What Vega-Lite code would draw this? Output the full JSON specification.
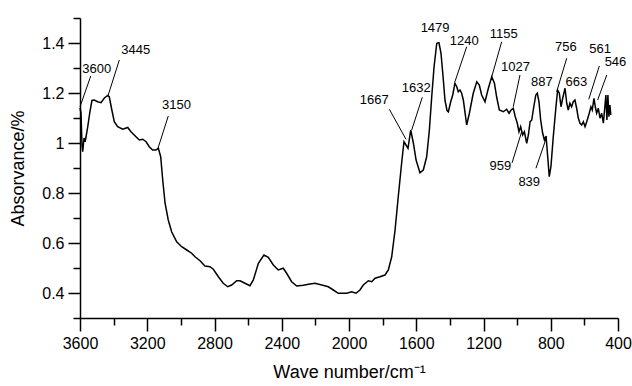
{
  "$schema": "https://vega.github.io/schema/vega-lite/v6.json",
  "width": 538,
  "height": 300,
  "autosize": {"type": "none"},
  "padding": {"left": 80, "top": 18, "right": 14, "bottom": 68},
  "background": "white",
  "config": {
    "view": {"stroke": null},
    "font": "Liberation Sans",
    "axis": {
      "domainColor": "black", "domainWidth": 1.5,
      "tickColor": "black", "tickWidth": 1.5,
      "labelColor": "black", "titleColor": "black",
      "labelFont": "Liberation Sans", "titleFont": "Liberation Sans",
      "labelFontSize": 16, "titleFontSize": 18, "titleFontWeight": "normal",
      "grid": false
    }
  },
  "datasets": {
    "spectrum": [
      {"wn": 3600, "abs": 1.14}, {"wn": 3594, "abs": 1.12}, {"wn": 3588, "abs": 0.99}, {"wn": 3584, "abs": 0.965},
      {"wn": 3576, "abs": 1.02}, {"wn": 3570, "abs": 1.005}, {"wn": 3564, "abs": 1.025}, {"wn": 3554, "abs": 1.065},
      {"wn": 3541, "abs": 1.125}, {"wn": 3529, "abs": 1.17}, {"wn": 3515, "abs": 1.172}, {"wn": 3495, "abs": 1.165},
      {"wn": 3475, "abs": 1.161}, {"wn": 3455, "abs": 1.18}, {"wn": 3435, "abs": 1.19}, {"wn": 3426, "abs": 1.185},
      {"wn": 3410, "abs": 1.13}, {"wn": 3396, "abs": 1.085}, {"wn": 3376, "abs": 1.065}, {"wn": 3346, "abs": 1.055},
      {"wn": 3316, "abs": 1.062}, {"wn": 3297, "abs": 1.045}, {"wn": 3267, "abs": 1.025}, {"wn": 3247, "abs": 1.012},
      {"wn": 3227, "abs": 1.015}, {"wn": 3207, "abs": 1.005}, {"wn": 3188, "abs": 0.985}, {"wn": 3168, "abs": 0.972},
      {"wn": 3148, "abs": 0.972}, {"wn": 3134, "abs": 0.979}, {"wn": 3120, "abs": 0.945}, {"wn": 3108, "abs": 0.852},
      {"wn": 3094, "abs": 0.759}, {"wn": 3075, "abs": 0.692}, {"wn": 3055, "abs": 0.645}, {"wn": 3025, "abs": 0.605},
      {"wn": 2995, "abs": 0.585}, {"wn": 2965, "abs": 0.572}, {"wn": 2936, "abs": 0.559}, {"wn": 2916, "abs": 0.545},
      {"wn": 2886, "abs": 0.529}, {"wn": 2857, "abs": 0.508}, {"wn": 2827, "abs": 0.505}, {"wn": 2807, "abs": 0.495},
      {"wn": 2777, "abs": 0.465}, {"wn": 2748, "abs": 0.439}, {"wn": 2721, "abs": 0.425}, {"wn": 2698, "abs": 0.432},
      {"wn": 2668, "abs": 0.449}, {"wn": 2648, "abs": 0.449}, {"wn": 2619, "abs": 0.439}, {"wn": 2589, "abs": 0.429},
      {"wn": 2569, "abs": 0.452}, {"wn": 2539, "abs": 0.519}, {"wn": 2506, "abs": 0.552}, {"wn": 2480, "abs": 0.543},
      {"wn": 2450, "abs": 0.512}, {"wn": 2421, "abs": 0.492}, {"wn": 2391, "abs": 0.499}, {"wn": 2371, "abs": 0.479},
      {"wn": 2341, "abs": 0.445}, {"wn": 2311, "abs": 0.428}, {"wn": 2272, "abs": 0.431}, {"wn": 2232, "abs": 0.436},
      {"wn": 2202, "abs": 0.439}, {"wn": 2162, "abs": 0.432}, {"wn": 2123, "abs": 0.425}, {"wn": 2093, "abs": 0.412},
      {"wn": 2064, "abs": 0.399}, {"wn": 2054, "abs": 0.399}, {"wn": 2014, "abs": 0.399}, {"wn": 1984, "abs": 0.405},
      {"wn": 1958, "abs": 0.399}, {"wn": 1935, "abs": 0.412}, {"wn": 1915, "abs": 0.432}, {"wn": 1885, "abs": 0.449},
      {"wn": 1865, "abs": 0.445}, {"wn": 1845, "abs": 0.459}, {"wn": 1816, "abs": 0.465}, {"wn": 1786, "abs": 0.472},
      {"wn": 1766, "abs": 0.492}, {"wn": 1746, "abs": 0.545}, {"wn": 1726, "abs": 0.652}, {"wn": 1707, "abs": 0.785},
      {"wn": 1687, "abs": 0.919}, {"wn": 1673, "abs": 1.005}, {"wn": 1661, "abs": 0.992}, {"wn": 1649, "abs": 0.979},
      {"wn": 1633, "abs": 1.052}, {"wn": 1617, "abs": 0.999}, {"wn": 1601, "abs": 0.932}, {"wn": 1578, "abs": 0.881},
      {"wn": 1558, "abs": 0.892}, {"wn": 1538, "abs": 0.945}, {"wn": 1522, "abs": 1.052}, {"wn": 1508, "abs": 1.185},
      {"wn": 1494, "abs": 1.305}, {"wn": 1478, "abs": 1.399}, {"wn": 1465, "abs": 1.401}, {"wn": 1453, "abs": 1.36},
      {"wn": 1441, "abs": 1.27}, {"wn": 1429, "abs": 1.17}, {"wn": 1417, "abs": 1.13}, {"wn": 1409, "abs": 1.125},
      {"wn": 1395, "abs": 1.165}, {"wn": 1383, "abs": 1.192}, {"wn": 1370, "abs": 1.239}, {"wn": 1359, "abs": 1.225},
      {"wn": 1350, "abs": 1.205}, {"wn": 1340, "abs": 1.212}, {"wn": 1330, "abs": 1.199}, {"wn": 1320, "abs": 1.172},
      {"wn": 1300, "abs": 1.072}, {"wn": 1284, "abs": 1.119}, {"wn": 1261, "abs": 1.199}, {"wn": 1240, "abs": 1.245},
      {"wn": 1225, "abs": 1.232}, {"wn": 1211, "abs": 1.192}, {"wn": 1191, "abs": 1.165}, {"wn": 1171, "abs": 1.219},
      {"wn": 1151, "abs": 1.265}, {"wn": 1135, "abs": 1.239}, {"wn": 1122, "abs": 1.185}, {"wn": 1106, "abs": 1.132},
      {"wn": 1082, "abs": 1.125}, {"wn": 1062, "abs": 1.135}, {"wn": 1048, "abs": 1.119}, {"wn": 1036, "abs": 1.132},
      {"wn": 1023, "abs": 1.139}, {"wn": 1011, "abs": 1.105}, {"wn": 999, "abs": 1.079}, {"wn": 989, "abs": 1.045},
      {"wn": 979, "abs": 1.065}, {"wn": 967, "abs": 1.032}, {"wn": 957, "abs": 1.045}, {"wn": 943, "abs": 0.999},
      {"wn": 933, "abs": 1.032}, {"wn": 923, "abs": 1.085}, {"wn": 913, "abs": 1.092}, {"wn": 904, "abs": 1.132},
      {"wn": 889, "abs": 1.192}, {"wn": 880, "abs": 1.199}, {"wn": 870, "abs": 1.165}, {"wn": 860, "abs": 1.092},
      {"wn": 848, "abs": 1.039}, {"wn": 838, "abs": 1.012}, {"wn": 828, "abs": 1.028}, {"wn": 818, "abs": 0.945},
      {"wn": 809, "abs": 0.865}, {"wn": 799, "abs": 0.905}, {"wn": 785, "abs": 1.025}, {"wn": 769, "abs": 1.145},
      {"wn": 759, "abs": 1.212}, {"wn": 749, "abs": 1.199}, {"wn": 739, "abs": 1.145}, {"wn": 729, "abs": 1.179},
      {"wn": 715, "abs": 1.219}, {"wn": 705, "abs": 1.159}, {"wn": 696, "abs": 1.132}, {"wn": 686, "abs": 1.159},
      {"wn": 676, "abs": 1.145}, {"wn": 666, "abs": 1.165}, {"wn": 656, "abs": 1.172}, {"wn": 646, "abs": 1.139},
      {"wn": 636, "abs": 1.099}, {"wn": 626, "abs": 1.079}, {"wn": 616, "abs": 1.072}, {"wn": 606, "abs": 1.085},
      {"wn": 596, "abs": 1.065}, {"wn": 586, "abs": 1.085}, {"wn": 571, "abs": 1.119}, {"wn": 561, "abs": 1.145},
      {"wn": 553, "abs": 1.132}, {"wn": 543, "abs": 1.179}, {"wn": 535, "abs": 1.145}, {"wn": 527, "abs": 1.119},
      {"wn": 517, "abs": 1.139}, {"wn": 507, "abs": 1.099}, {"wn": 497, "abs": 1.119}, {"wn": 487, "abs": 1.079},
      {"wn": 480, "abs": 1.132}, {"wn": 472, "abs": 1.192}, {"wn": 466, "abs": 1.092}, {"wn": 460, "abs": 1.192},
      {"wn": 454, "abs": 1.105}, {"wn": 448, "abs": 1.152}, {"wn": 443, "abs": 1.112}
    ],
    "labels": [
      {"wn": 3500, "abs": 1.297, "text": "3600"},
      {"wn": 3268, "abs": 1.373, "text": "3445"},
      {"wn": 3026, "abs": 1.153, "text": "3150"},
      {"wn": 1488, "abs": 1.461, "text": "1479"},
      {"wn": 1315, "abs": 1.408, "text": "1240"},
      {"wn": 1080, "abs": 1.435, "text": "1155"},
      {"wn": 1010, "abs": 1.305, "text": "1027"},
      {"wn": 1600, "abs": 1.221, "text": "1632"},
      {"wn": 1850, "abs": 1.172, "text": "1667"},
      {"wn": 853, "abs": 1.243, "text": "887"},
      {"wn": 710, "abs": 1.385, "text": "756"},
      {"wn": 648, "abs": 1.245, "text": "663"},
      {"wn": 507, "abs": 1.376, "text": "561"},
      {"wn": 415, "abs": 1.325, "text": "546"},
      {"wn": 1100, "abs": 0.909, "text": "959"},
      {"wn": 928, "abs": 0.843, "text": "839"}
    ],
    "leaders": [
      {"wn": 3536, "abs": 1.268, "wn2": 3600, "abs2": 1.145},
      {"wn": 3366, "abs": 1.332, "wn2": 3432, "abs2": 1.192},
      {"wn": 3075, "abs": 1.108, "wn2": 3138, "abs2": 0.975},
      {"wn": 1300, "abs": 1.385, "wn2": 1370, "abs2": 1.245},
      {"wn": 1092, "abs": 1.405, "wn2": 1151, "abs2": 1.265},
      {"wn": 983, "abs": 1.272, "wn2": 1023, "abs2": 1.145},
      {"wn": 1564, "abs": 1.183, "wn2": 1627, "abs2": 1.052},
      {"wn": 1760, "abs": 1.135, "wn2": 1661, "abs2": 1.015},
      {"wn": 705, "abs": 1.339, "wn2": 765, "abs2": 1.205},
      {"wn": 511, "abs": 1.308, "wn2": 574, "abs2": 1.175},
      {"wn": 467, "abs": 1.272, "wn2": 521, "abs2": 1.172},
      {"wn": 1030, "abs": 0.921, "wn2": 973, "abs2": 1.045},
      {"wn": 888, "abs": 0.899, "wn2": 824, "abs2": 1.025}
    ]
  },
  "encoding": {
    "x": {
      "field": "wn", "type": "quantitative",
      "scale": {"domain": [400, 3600], "reverse": true, "nice": false, "zero": false},
      "axis": {
        "title": "Wave number/cm⁻¹",
        "values": [400, 600, 800, 1000, 1200, 1400, 1600, 1800, 2000, 2200, 2400, 2600, 2800, 3000, 3200, 3400, 3600],
        "format": "d",
        "labelExpr": "datum.value % 400 === 0 ? datum.label : ''",
        "tickSize": {"condition": {"test": "datum.value % 400 !== 0", "value": 7}, "value": 13},
        "labelPadding": 4,
        "titlePadding": 12,
        "labelFlush": false,
        "labelOverlap": false
      }
    },
    "y": {
      "field": "abs", "type": "quantitative",
      "scale": {"domain": [0.3, 1.5], "nice": false, "zero": false},
      "axis": {
        "title": "Absorvance/%",
        "values": [0.3, 0.4, 0.5, 0.6, 0.7, 0.8, 0.9, 1.0, 1.1, 1.2, 1.3, 1.4, 1.5],
        "labelExpr": "round(datum.value * 10) % 2 === 1 ? '' : (round(datum.value * 10) === 10 ? '1' : format(datum.value, '.1f'))",
        "tickSize": {"condition": {"test": "round(datum.value * 10) % 2 === 1", "value": 7}, "value": 12},
        "labelPadding": 4,
        "titlePadding": 14,
        "labelFlush": false,
        "labelOverlap": false
      }
    }
  },
  "layer": [
    {
      "data": {"name": "spectrum"},
      "mark": {"type": "line", "color": "black", "strokeWidth": 1.5, "interpolate": "linear"}
    },
    {
      "data": {"name": "leaders"},
      "mark": {"type": "rule", "color": "black", "strokeWidth": 1},
      "encoding": {
        "x2": {"field": "wn2"},
        "y2": {"field": "abs2"}
      }
    },
    {
      "data": {"name": "labels"},
      "mark": {"type": "text", "color": "black", "fontSize": 13, "font": "Liberation Sans", "align": "center", "baseline": "middle"},
      "encoding": {
        "text": {"field": "text", "type": "nominal"}
      }
    }
  ]
}
